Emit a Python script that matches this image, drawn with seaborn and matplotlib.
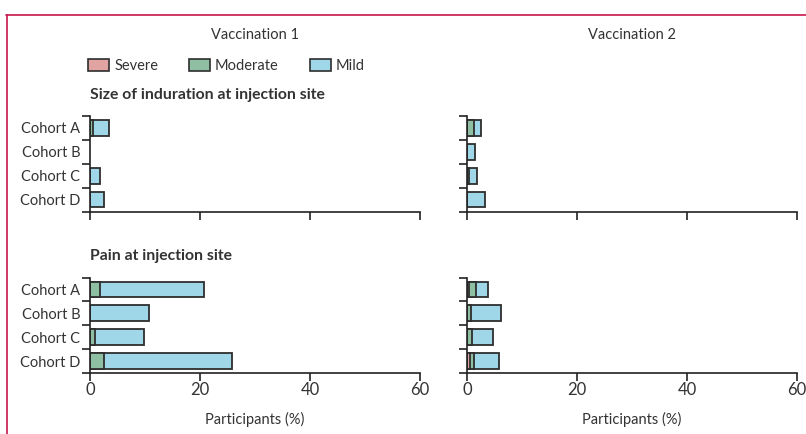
import pandas as pd
import matplotlib.pyplot as plt
import seaborn as sns
from matplotlib.patches import Patch
from matplotlib.lines import Line2D

sns.set_style("ticks")
plt.rcParams["font.family"] = ["Lato", "DejaVu Sans"]
plt.rcParams["text.color"] = "#333333"

# Data (participants %, segment widths)
cohorts = ["Cohort A", "Cohort B", "Cohort C", "Cohort D"]

ind_v1_severe = [0, 0, 0, 0]
ind_v1_moderate = [0.5, 0, 0, 0]
ind_v1_mild = [3.0, 0, 1.8, 2.5]

ind_v2_severe = [0, 0, 0, 0]
ind_v2_moderate = [1.2, 0, 0.4, 0]
ind_v2_mild = [1.3, 1.5, 1.35, 3.2]

pain_v1_severe = [0, 0, 0, 0]
pain_v1_moderate = [1.8, 0, 0.9, 2.6]
pain_v1_mild = [19.0, 10.7, 8.9, 23.2]

pain_v2_severe = [0.45, 0, 0, 0.6]
pain_v2_moderate = [1.25, 0.8, 0.9, 0.7]
pain_v2_mild = [2.05, 5.3, 3.9, 4.45]

x_ticks = [0, 20, 40, 60]
colors = {"Severe": "#e2a4a2", "Moderate": "#8fbfa2", "Mild": "#9fd6e8"}
edge = "#2e2e2e"

fig = plt.figure(figsize=(8.06, 4.34), dpi=100)

W, H = 806, 434


def add_panel(x0, ytop, severe, moderate, mild, show_xlabels):
    ax = fig.add_axes([x0 / W, 1 - (ytop + 95.5) / H, 330 / W, 95.5 / H])
    df = pd.DataFrame({"cohort": cohorts, "severe": severe,
                       "moderate": moderate, "mild": mild})
    df["cum_mod"] = df["severe"] + df["moderate"]
    df["total"] = df["cum_mod"] + df["mild"]
    # draw cumulative layers from the longest to the shortest
    for col, name in [("total", "Mild"), ("cum_mod", "Moderate"), ("severe", "Severe")]:
        d = df[df[col] > 0]
        sns.barplot(data=d, x=col, y="cohort", order=cohorts, orient="h",
                    color=colors[name], saturation=1, edgecolor=edge,
                    linewidth=1.3, width=0.66, ax=ax)
    ax.set_xlim(0, 60)
    ax.set_ylim(3.5, -0.5)
    ax.set_xticks(x_ticks)
    ax.set_yticks([-0.5, 0.5, 1.5, 2.5, 3.5])
    ax.set_yticklabels([])
    ax.set_yticks([0, 1, 2, 3], minor=True)
    ax.set_xlabel("")
    ax.set_ylabel("")
    if x0 < 300:
        ax.set_yticklabels(cohorts, minor=True)
    ax.tick_params(axis="y", which="minor", length=0, pad=7, labelsize=10.5,
                   labelcolor="#333333")
    ax.tick_params(axis="both", which="major", length=6, width=1.2,
                   color="#222222", labelsize=12, labelcolor="#333333", pad=0.5)
    if show_xlabels:
        ax.set_xticklabels([str(t) for t in x_ticks])
        ax.set_xlabel("Participants (%)", fontsize=10.5, color="#333333",
                      labelpad=10)
    else:
        ax.set_xticklabels([])
    for s in ["left", "bottom"]:
        ax.spines[s].set_linewidth(1.2)
        ax.spines[s].set_color("#222222")
    sns.despine(ax=ax)
    ax.patch.set_alpha(0)
    return ax


ax1 = add_panel(90, 116, ind_v1_severe, ind_v1_moderate, ind_v1_mild, False)
ax2 = add_panel(467, 116, ind_v2_severe, ind_v2_moderate, ind_v2_mild, False)
ax3 = add_panel(90, 277.5, pain_v1_severe, pain_v1_moderate, pain_v1_mild, True)
ax4 = add_panel(467, 277.5, pain_v2_severe, pain_v2_moderate, pain_v2_mild, True)

# Column titles
fig.text(255 / W, 1 - 35 / H, "Vaccination 1", ha="center", va="center", fontsize=10.5)
fig.text(632 / W, 1 - 35 / H, "Vaccination 2", ha="center", va="center", fontsize=10.5)

# Section headings
fig.text(90 / W, 1 - 95 / H, "Size of induration at injection site", ha="left",
         va="center", fontsize=11.3, fontweight="bold")
fig.text(90 / W, 1 - 256 / H, "Pain at injection site", ha="left",
         va="center", fontsize=11.3, fontweight="bold")

# Legend
handles = [Patch(facecolor=colors[k], edgecolor=edge, linewidth=1.2, label=k)
           for k in ["Severe", "Moderate", "Mild"]]
fig.legend(handles=handles, loc="center left", bbox_to_anchor=(88 / W, 1 - 66 / H),
           ncol=3, frameon=False, fontsize=10.5, handlelength=1.45,
           handleheight=0.85, handletextpad=0.35, columnspacing=2.1,
           borderpad=0, borderaxespad=0)

# Red frame (top and left edges)
red = "#c8174a"
fig.add_artist(Line2D([6 / W, 1], [1 - 14.5 / H, 1 - 14.5 / H], color=red, lw=1.2))
fig.add_artist(Line2D([6.5 / W, 6.5 / W], [0, 1 - 14.5 / H], color=red, lw=1.2))

fig.savefig("out.png", dpi=100)
